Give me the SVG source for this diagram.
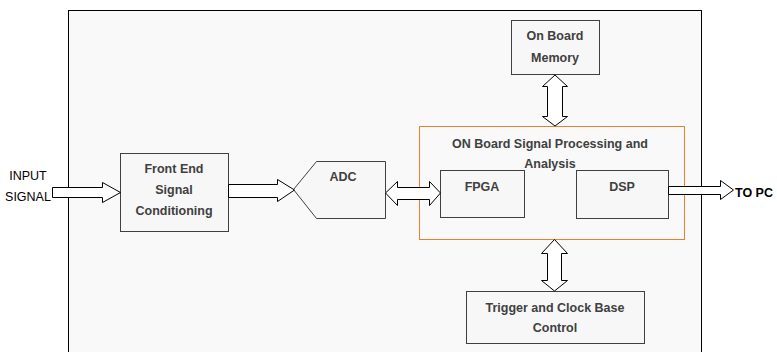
<svg xmlns="http://www.w3.org/2000/svg" width="777" height="352" viewBox="0 0 777 352">
<style>
.box{fill:#f7f7f7;stroke:#404040;stroke-width:1}
.lbl{font-family:"Liberation Sans",Arial,sans-serif;font-weight:bold;font-size:12.5px;fill:#404040;text-anchor:middle;dominant-baseline:central}
.ext{font-family:"Liberation Sans",Arial,sans-serif;font-size:12.5px;fill:#000;dominant-baseline:central}
.arr{fill:#fff;stroke:#000;stroke-width:1;stroke-linejoin:miter}
</style>
<rect id="board" x="68.5" y="10.5" width="633" height="360" fill="#f9f9f9" stroke="#000" stroke-width="1"/>
<g id="input">
<text class="ext" x="28" y="176" text-anchor="middle">INPUT</text>
<text class="ext" x="28" y="197" text-anchor="middle">SIGNAL</text>
</g>
<g id="frontend">
<rect class="box" x="120.5" y="153.5" width="108" height="78"/>
<text class="lbl" x="174" y="169">Front End</text>
<text class="lbl" x="174" y="190">Signal</text>
<text class="lbl" x="174" y="211">Conditioning</text>
</g>
<g id="adc">
<polygon class="box" points="316.5,161.5 385.5,161.5 385.5,218.5 316.5,218.5 293.5,189.5"/>
<text class="lbl" x="343" y="177">ADC</text>
</g>
<g id="processing">
<rect x="419.5" y="126.5" width="265" height="113" fill="none" stroke="#ed7d31" stroke-width="1"/>
<text class="lbl" x="550" y="144">ON Board Signal Processing and</text>
<text class="lbl" x="550" y="164">Analysis</text>
</g>
<g id="fpga">
<rect class="box" x="440.5" y="170.5" width="84" height="47"/>
<text class="lbl" x="482" y="187">FPGA</text>
</g>
<g id="dsp">
<rect class="box" x="576.5" y="170.5" width="92" height="48"/>
<text class="lbl" x="622" y="187">DSP</text>
</g>
<g id="memory">
<rect class="box" x="511.5" y="20.5" width="88" height="54"/>
<text class="lbl" x="555" y="36">On Board</text>
<text class="lbl" x="555" y="58">Memory</text>
</g>
<g id="trigger">
<rect class="box" x="466.5" y="291.5" width="178" height="52"/>
<text class="lbl" x="555" y="308">Trigger and Clock Base</text>
<text class="lbl" x="555" y="328">Control</text>
</g>
<g id="topc">
<text class="ext" x="735" y="193" font-weight="bold">TO PC</text>
</g>
<g id="connectors">
<polygon class="arr" points="52.5,187.5 102.5,187.5 102.5,182.5 120.5,192.5 102.5,202.5 102.5,197.5 52.5,197.5"/>
<polygon class="arr" points="228.5,184.5 277.5,184.5 277.5,179.5 294.5,190 277.5,201.5 277.5,197.5 228.5,197.5"/>
<polygon class="arr" points="385.5,193 397.5,181.5 397.5,187.5 429.5,187.5 429.5,181.5 440.5,193 429.5,205.5 429.5,199.5 397.5,199.5 397.5,205.5"/>
<polygon class="arr" points="555,75 567.5,86.5 562.5,86.5 562.5,116.5 567.5,116.5 555,126 542.5,116.5 547.5,116.5 547.5,86.5 542.5,86.5"/>
<polygon class="arr" points="554.5,239.5 567.5,253.5 561.5,253.5 561.5,280.5 567.5,280.5 554.5,291 541.5,280.5 547.5,280.5 547.5,253.5 541.5,253.5"/>
<polygon class="arr" points="668.5,186.5 720.5,186.5 720.5,180.5 733.5,190 720.5,199.5 720.5,194.5 668.5,194.5"/>
</g>
</svg>
